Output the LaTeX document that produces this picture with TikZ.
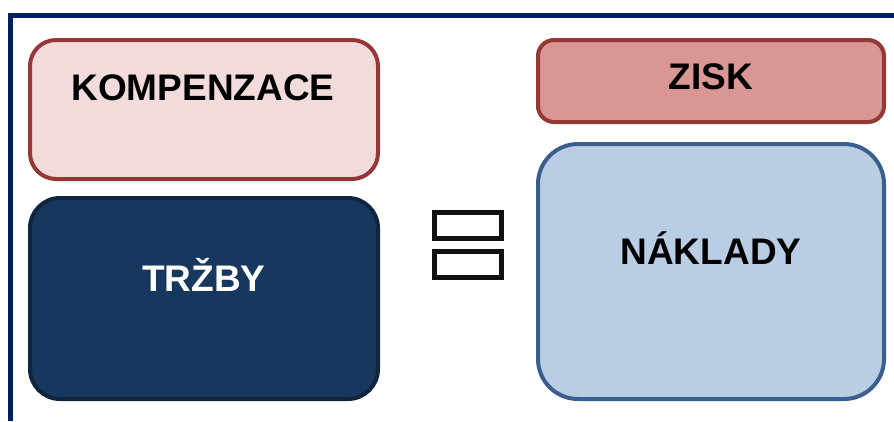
\documentclass[tikz,border=0pt]{standalone}
\usepackage{fontspec}
\setmainfont{Liberation Sans}
\definecolor{framecol}{HTML}{002060}
\definecolor{redline}{HTML}{953735}
\definecolor{pinkfill}{HTML}{F2DCDB}
\definecolor{rosefill}{HTML}{D99694}
\definecolor{navyfill}{HTML}{17375E}
\definecolor{navyline}{HTML}{10253F}
\definecolor{skyfill}{HTML}{B9CDE5}
\definecolor{skyline}{HTML}{3A5F8F}
\definecolor{eqcol}{HTML}{111111}
\tikzset{
  box/.style={rounded corners=#1, line width=4pt},
  label/.style={font=\fontsize{37}{40}\selectfont\bfseries, inner sep=0pt},
  eqbar/.style={draw=eqcol, line width=5pt, fill=white}
}
\begin{document}
\begin{tikzpicture}[x=1pt,y=-1pt]
\useasboundingbox (0,0) rectangle (894,421);
% outer frame (only top and left edges visible)
\draw[framecol, line width=5pt] (10.5,421) -- (10.5,15) -- (894,15);
% left column
\draw[box=26pt, draw=redline, fill=pinkfill] (30,40) rectangle (378,179);
\node[label] (komp) at (203,88) {KOMPENZACE};
\draw[box=30pt, draw=navyline, fill=navyfill] (30,198) rectangle (378,399);
\node[label, text=white] (trzby) at (204,275) {TRŽBY};
% equals sign
\draw[eqbar] (434.5,212.5) rectangle (501.5,238.5);
\draw[eqbar] (434.5,251.5) rectangle (501.5,277.5);
% right column
\draw[box=16pt, draw=redline, fill=rosefill] (538,40) rectangle (884,122);
\node[label] (zisk) at (711,77) {ZISK};
\draw[box=40pt, draw=skyline, fill=skyfill] (538,144) rectangle (884,399);
\node[label] (naklady) at (711,248) {NÁKLADY};
\end{tikzpicture}
\end{document}
